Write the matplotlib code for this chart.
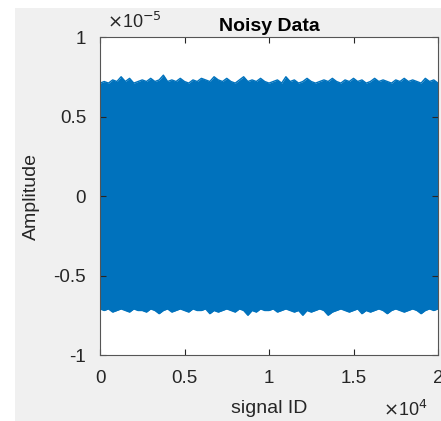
import matplotlib
matplotlib.use("Agg")
import matplotlib.pyplot as plt
import numpy as np

# Envelope of the noisy signal (units of 1e-5), every 250 samples
signal_id = list(range(0, 20001, 250))
upper = [0.71, 0.72, 0.71, 0.73, 0.72, 0.75, 0.72, 0.74, 0.71, 0.72,
         0.73, 0.72, 0.74, 0.72, 0.73, 0.76, 0.72, 0.73, 0.72, 0.74,
         0.72, 0.71, 0.73, 0.72, 0.74, 0.73, 0.72, 0.75, 0.73, 0.72,
         0.74, 0.72, 0.71, 0.73, 0.75, 0.72, 0.73, 0.72, 0.74, 0.72,
         0.71, 0.72, 0.73, 0.71, 0.75, 0.72, 0.73, 0.71, 0.72, 0.74,
         0.72, 0.71, 0.72, 0.73, 0.72, 0.74, 0.72, 0.71, 0.73, 0.72,
         0.74, 0.72, 0.73, 0.71, 0.72, 0.74, 0.72, 0.73, 0.72, 0.71,
         0.73, 0.72, 0.74, 0.72, 0.73, 0.72, 0.71, 0.74, 0.72, 0.73, 0.71]
lower = [-0.71, -0.72, -0.71, -0.73, -0.72, -0.71, -0.72, -0.73, -0.71, -0.72,
         -0.72, -0.73, -0.71, -0.72, -0.74, -0.72, -0.71, -0.73, -0.72, -0.71,
         -0.72, -0.73, -0.71, -0.72, -0.72, -0.71, -0.74, -0.72, -0.73, -0.72,
         -0.71, -0.72, -0.73, -0.71, -0.72, -0.75, -0.72, -0.73, -0.71, -0.72,
         -0.72, -0.71, -0.73, -0.72, -0.71, -0.72, -0.73, -0.72, -0.75, -0.72,
         -0.73, -0.72, -0.71, -0.72, -0.75, -0.73, -0.72, -0.71, -0.72, -0.73,
         -0.72, -0.71, -0.74, -0.72, -0.73, -0.72, -0.71, -0.72, -0.74, -0.72,
         -0.71, -0.72, -0.73, -0.72, -0.71, -0.72, -0.74, -0.72, -0.71, -0.72, -0.71]
xticks = [0, 5000, 10000, 15000, 20000]
xtick_labels = ["0", "0.5", "1", "1.5", "2"]
yticks = [-1e-5, -0.5e-5, 0, 0.5e-5, 1e-5]
ytick_labels = ["-1", "-0.5", "0", "0.5", "1"]

plt.rcParams['font.family'] = ['Liberation Sans', 'DejaVu Sans']

fig = plt.figure(figsize=(4.41, 4.21), dpi=100, facecolor='#f0f0f0')
# white screenshot margins
fig.patches.append(plt.Rectangle((0, 0), 15/441, 1, transform=fig.transFigure,
                                 facecolor='white', edgecolor='none', zorder=0))
fig.patches.append(plt.Rectangle((0, 1 - 8/421), 1, 8/421, transform=fig.transFigure,
                                 facecolor='white', edgecolor='none', zorder=0))
ax = fig.add_axes([100/441, 66/421, 338/441, 318/421])
ax.set_facecolor('white')

x = np.array(signal_id, dtype=float)
up = np.array(upper) * 1e-5
lo = np.array(lower) * 1e-5
color = '#0072BD'
ax.fill_between(x, lo, up, color=color, linewidth=0)
ax.plot(x, up, color=color, lw=1.0)
ax.plot(x, lo, color=color, lw=1.0)

ax.set_xlim(0, 20000)
ax.set_ylim(-1e-5, 1e-5)
ax.set_xticks(xticks)
ax.set_xticklabels(xtick_labels)
ax.set_yticks(yticks)
ax.set_yticklabels(ytick_labels)
ax.tick_params(direction='in', length=4, width=0.8, colors='#262626', labelsize=13.5,
               top=True, right=True)
ax.tick_params(axis='x', pad=11)
ax.tick_params(axis='y', pad=10)
for s in ax.spines.values():
    s.set_color('#555555')
    s.set_linewidth(0.8)

ax.set_title('Noisy Data', fontsize=14, fontweight='bold', color='black', pad=4)
ax.set_xlabel('signal ID', fontsize=14, color='#262626', labelpad=9)
ax.set_ylabel('Amplitude', fontsize=14, color='#262626', labelpad=10)

fig.text(107/441, 1 - 22/421, r'$\times$10$^{-5}$', fontsize=13, color='#262626',
         ha='left', va='center')
fig.text(383/441, 1 - 410/421, r'$\times$10$^{4}$', fontsize=13, color='#262626',
         ha='left', va='center')

fig.savefig('out.png', dpi=100, facecolor=fig.get_facecolor())
